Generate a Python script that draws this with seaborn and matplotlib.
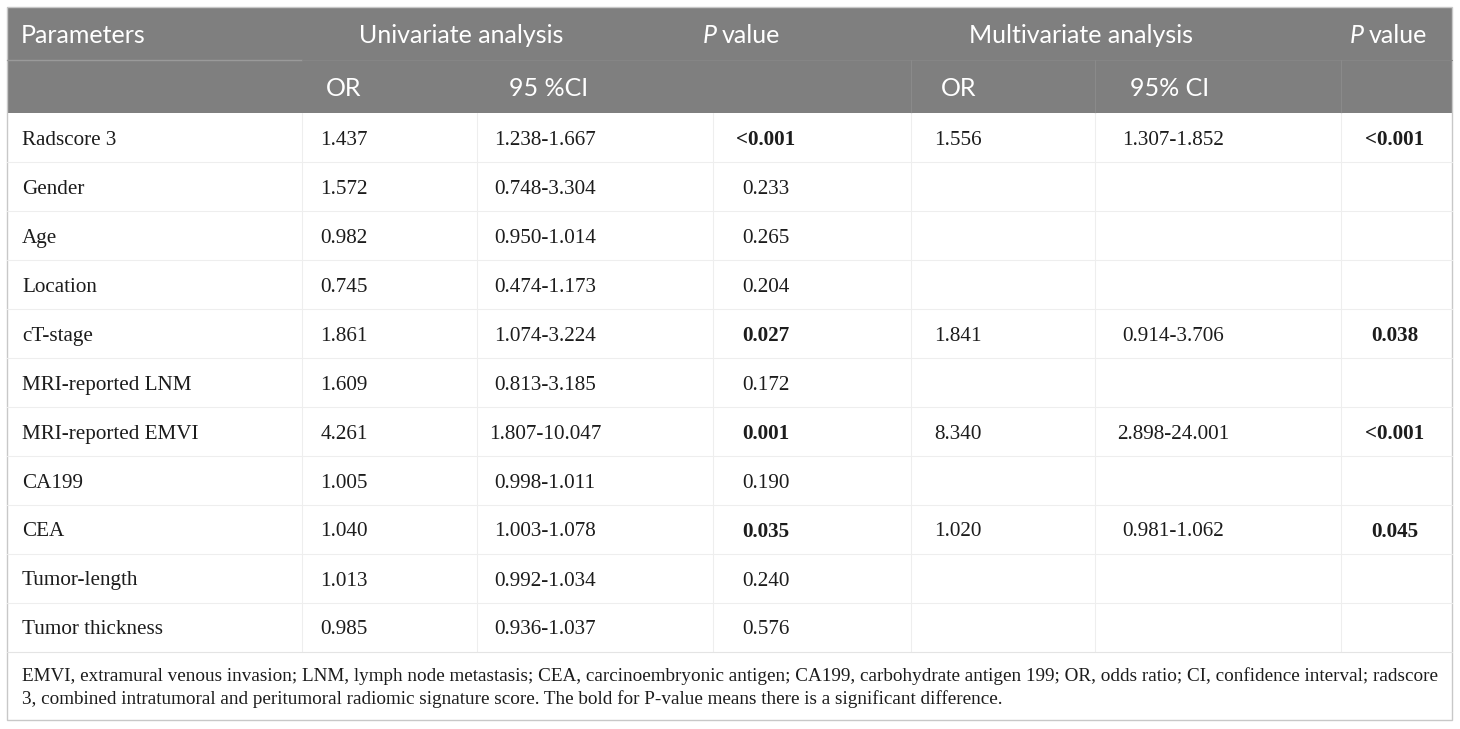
import matplotlib.pyplot as plt
import seaborn as sns
from matplotlib.patches import Rectangle

# Table contents
parameters = ["Radscore 3", "Gender", "Age", "Location", "cT-stage", "MRI-reported LNM",
              "MRI-reported EMVI", "CA199", "CEA", "Tumor-length", "Tumor thickness"]
uni_or = ["1.437", "1.572", "0.982", "0.745", "1.861", "1.609", "4.261", "1.005", "1.040", "1.013", "0.985"]
uni_ci = ["1.238-1.667", "0.748-3.304", "0.950-1.014", "0.474-1.173", "1.074-3.224", "0.813-3.185",
          "1.807-10.047", "0.998-1.011", "1.003-1.078", "0.992-1.034", "0.936-1.037"]
uni_p = ["<0.001", "0.233", "0.265", "0.204", "0.027", "0.172", "0.001", "0.190", "0.035", "0.240", "0.576"]
multi_or = ["1.556", "", "", "", "1.841", "", "8.340", "", "1.020", "", ""]
multi_ci = ["1.307-1.852", "", "", "", "0.914-3.706", "", "2.898-24.001", "", "0.981-1.062", "", ""]
multi_p = ["<0.001", "", "", "", "0.038", "", "<0.001", "", "0.045", "", ""]

footnote = ["EMVI, extramural venous invasion; LNM, lymph node metastasis; CEA, carcinoembryonic antigen; "
            "CA199, carbohydrate antigen 199; OR, odds ratio; CI, confidence interval; radscore",
            "3, combined intratumoral and peritumoral radiomic signature score. "
            "The bold for P-value means there is a significant difference."]

sns.set_theme(style="white")
serif = "Liberation Serif"
sans = "Lato"

fig = plt.figure(figsize=(14.6, 7.29), dpi=100)
ax = fig.add_axes([0, 0, 1, 1])
ax.set_xlim(0, 1460)
ax.set_ylim(729, 0)
ax.axis("off")

left, right = 7, 1452
top, head_mid, head_bot = 7, 60, 113
row_h = 49
n = len(parameters)
table_bot = head_bot + row_h * n
bottom = 720
col_edges = [302, 477, 713, 911, 1095, 1341]
col_centers = [344, 545, 766, 958, 1173, 1395]

header_grey = "#7f7f7f"
cell_line = "#eeeeee"
ink = "#1c1c1c"

# header band
ax.add_patch(Rectangle((left, top), right - left, head_bot - top, color=header_grey, lw=0))
ax.plot([left, 302], [head_mid, head_mid], color="#9a9a9a", lw=1)
ax.plot([302, right], [head_mid, head_mid], color="#858585", lw=0.8)
for x in [911, 1095, 1341]:
    ax.plot([x, x], [head_mid, head_bot], color="#8a8a8a", lw=0.8)

# body grid
for i in range(1, n):
    y = head_bot + row_h * i
    ax.plot([left, right], [y, y], color=cell_line, lw=0.8)
for x in col_edges:
    ax.plot([x, x], [head_bot, table_bot], color=cell_line, lw=0.8)
ax.plot([left, right], [table_bot, table_bot], color="#e4e4e4", lw=0.8)

# outer frame
ax.add_patch(Rectangle((left, top), right - left, bottom - top, fill=False,
                       edgecolor="#c8c8c8", lw=1.0))

# header texts
hsize = 18
ax.text(21, 35, "Parameters", color="white", fontsize=hsize, family=sans, va="center", ha="left")
ax.text(461, 35, "Univariate analysis", color="white", fontsize=hsize, family=sans, va="center", ha="center")
ax.text(1081, 35, "Multivariate analysis", color="white", fontsize=hsize, family=sans, va="center", ha="center")
for px in [717, 1364]:
    ax.text(px, 35, "P", color="white", fontsize=hsize, family=sans, style="italic", va="center", ha="right")
    ax.text(px + 5, 35, "value", color="white", fontsize=hsize, family=sans, va="center", ha="left")
for cx, lab in zip([344, 549, 959, 1170], ["OR", "95 %CI", "OR", "95% CI"]):
    ax.text(cx, 88, lab, color="white", fontsize=hsize, family=sans, va="center", ha="center")


def is_sig(p):
    return p.startswith("<") or float(p) < 0.05


# body texts
dsize = 15.2
for i in range(n):
    y = head_bot + row_h * i + row_h / 2 + 2.5
    ax.text(22, y, parameters[i], fontsize=dsize, family=serif, va="center", ha="left", color=ink)
    vals = [uni_or[i], uni_ci[i], uni_p[i], multi_or[i], multi_ci[i], multi_p[i]]
    for j, v in enumerate(vals):
        if not v:
            continue
        bold = j in (2, 5) and is_sig(v)
        ax.text(col_centers[j], y, v, fontsize=dsize, family=serif, va="center", ha="center",
                color=ink, weight="bold" if bold else "normal")

# footnote
for k, line in enumerate(footnote):
    ax.text(22, 676 + 23.5 * k, line, fontsize=13.75, family=serif, va="center", ha="left", color=ink)

fig.savefig("out.png", dpi=100)
